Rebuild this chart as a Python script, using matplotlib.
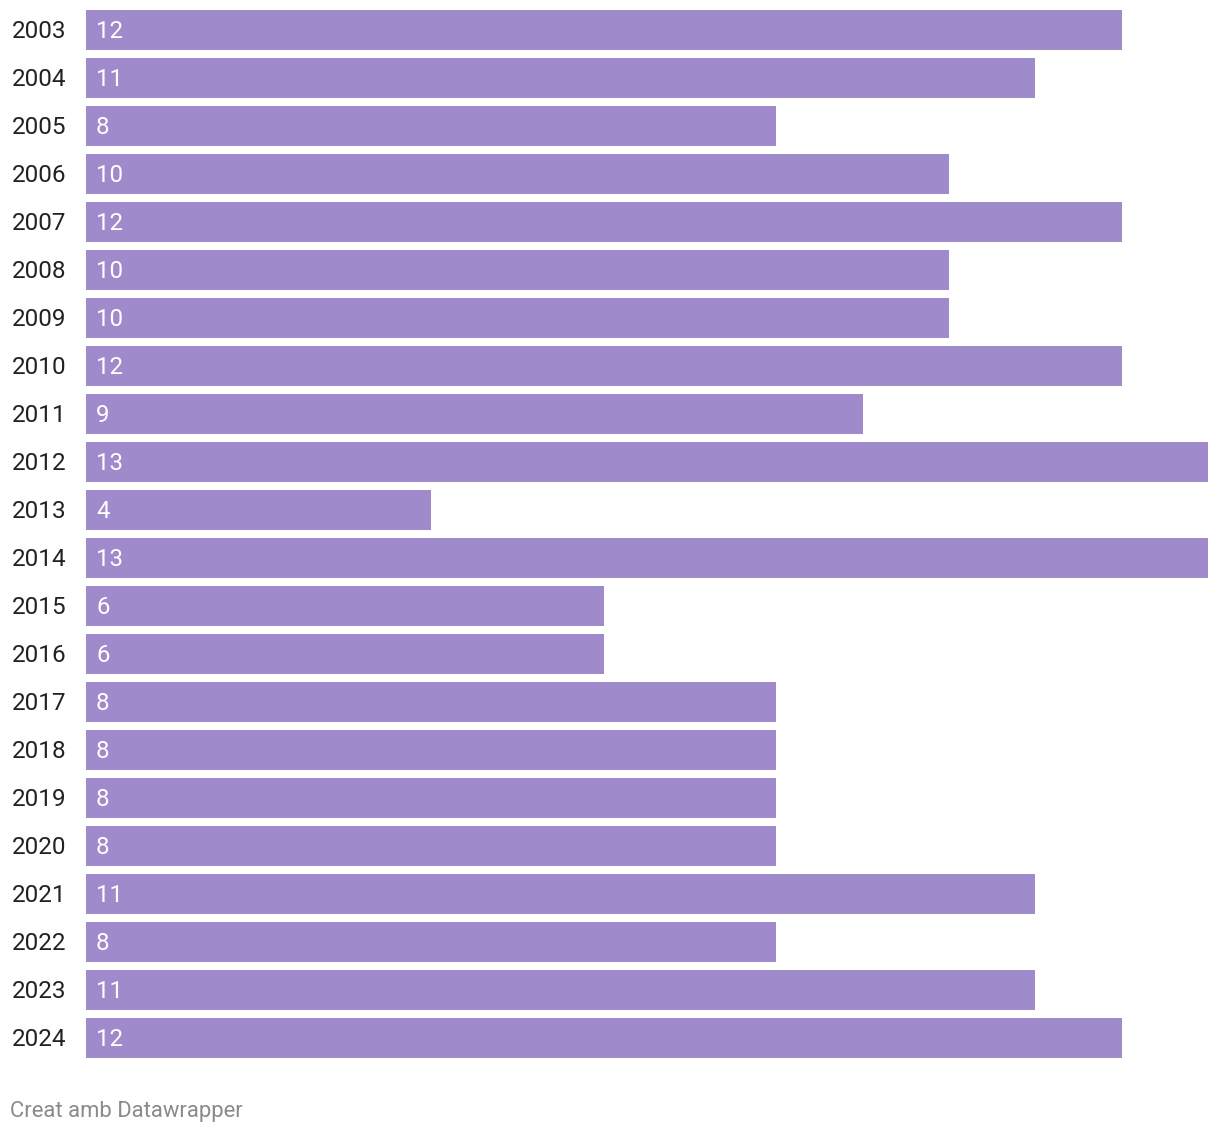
import matplotlib
matplotlib.use("Agg")
import matplotlib.pyplot as plt

years = ["2003", "2004", "2005", "2006", "2007", "2008", "2009", "2010", "2011",
         "2012", "2013", "2014", "2015", "2016", "2017", "2018", "2019", "2020",
         "2021", "2022", "2023", "2024"]
values = [12, 11, 8, 10, 12, 10, 10, 12, 9, 13, 4, 13, 6, 6, 8, 8, 8, 8, 11, 8, 11, 12]
footer = "Creat amb Datawrapper"

W, H = 1220, 1134
BAR_COLOR = "#9f8bcb"

plt.rcParams['font.family'] = ['Roboto', 'DejaVu Sans']

fig = plt.figure(figsize=(W / 100, H / 100), dpi=100)
# axes in pixel terms: x 86..1208, y 5.5..1061.5 (22 rows x 48px)
left, right = 86, 1208
top, bottom = 5.5, 1061.5
ax = fig.add_axes([left / W, 1 - bottom / H, (right - left) / W, (bottom - top) / H])

pos = list(range(len(years)))
ax.barh(pos, values, height=40 / 48, color=BAR_COLOR, left=0)
ax.set_xlim(0, max(values))
ax.set_ylim(len(years) - 0.5, -0.5)
ax.axis("off")

for i, (yr, v) in enumerate(zip(years, values)):
    ax.annotate(str(v), xy=(0, i), xycoords=("axes fraction", "data"),
                xytext=(10, -2), textcoords="offset pixels",
                ha="left", va="center", fontsize=17.3, color="white")
    ax.annotate(yr, xy=(0, i), xycoords=("axes fraction", "data"),
                xytext=(-74, -2), textcoords="offset pixels",
                ha="left", va="center", fontsize=17.5, color="#222222")

fig.text(10 / W, 1 - 1112 / H, footer, fontsize=15.8, color="#8a8a8a",
         ha="left", va="center")

fig.savefig("out.png", dpi=100)
